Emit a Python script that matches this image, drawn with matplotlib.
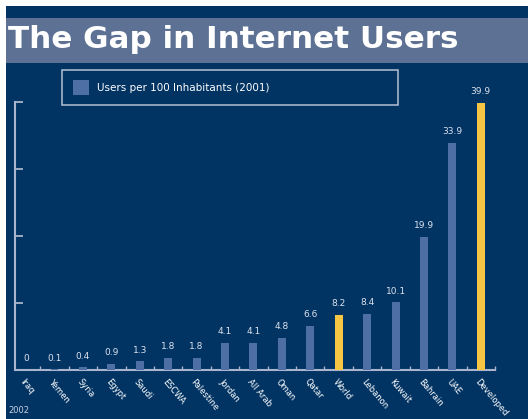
import matplotlib
matplotlib.use("Agg")
from matplotlib import pyplot as plt
from matplotlib.patches import Rectangle

countries = ["Iraq", "Yemen", "Syria", "Egypt", "Saudi", "ESCWA", "Palestine",
             "Jordan", "All Arab", "Oman", "Qatar", "World", "Lebanon",
             "Kuwait", "Bahrain", "UAE", "Developed"]
users = [0, 0.1, 0.4, 0.9, 1.3, 1.8, 1.8, 4.1, 4.1, 4.8, 6.6, 8.2, 8.4,
         10.1, 19.9, 33.9, 39.9]
highlight = ["World", "Developed"]

navy = "#013363"
band = "#5d7194"
blue = "#4d6fa5"
gold = "#f7c544"
light = "#a9b5cc"

fig = plt.figure(figsize=(5.28, 4.19), dpi=100)
fig.patch.set_facecolor("white")

# dark backdrop and title band
fig.patches.append(Rectangle((6 / 528, 0), 1, 1 - 6 / 419, transform=fig.transFigure,
                             facecolor=navy, edgecolor="none", zorder=-2))
fig.patches.append(Rectangle((6 / 528, 1 - 63 / 419), 1, 45 / 419, transform=fig.transFigure,
                             facecolor=band, edgecolor="none", zorder=-1))
fig.text(8 / 528, 1 - 40 / 419, "The Gap in Internet Users", color="white",
         fontsize=22.3, fontweight="bold", va="center", ha="left", zorder=2)

ax = fig.add_axes([15 / 528, 49 / 419, 480 / 528, 268 / 419])
ax.set_facecolor("none")
ax.set_zorder(5)

x = list(range(len(countries)))
colors = [gold if c in highlight else blue for c in countries]
bars = ax.bar(x, users, width=0.28, color=colors, zorder=3)

for xi, v in zip(x, users):
    txt = "0" if v == 0 else f"{v:.1f}"
    ax.text(xi, v + 1.0, txt, color="#dde3ee", fontsize=6.5, ha="center",
            va="bottom", clip_on=False)

ax.set_xlim(-0.39, 16.46)
ax.set_ylim(0, 40)

for s in ["top", "right"]:
    ax.spines[s].set_visible(False)
for s in ["left", "bottom"]:
    ax.spines[s].set_color(light)
    ax.spines[s].set_linewidth(1.5)

ax.set_yticks([10, 20, 30, 40])
ax.set_yticklabels([])
ax.tick_params(axis="y", direction="in", length=6, width=1.3, color=light)

ax.set_xticks([i + 0.5 for i in range(len(countries))])
ax.set_xticklabels([])
ax.tick_params(axis="x", direction="in", length=3, width=1, color=light)

for xi, name in zip(x, countries):
    ax.text(xi - 0.15, -1.5, name, color="white", fontsize=6.0, rotation=-50,
            rotation_mode="anchor", ha="left", va="center", clip_on=False)

# legend box
fig.patches.append(Rectangle((62 / 528, 1 - 105 / 419), 336 / 528, 35 / 419,
                             transform=fig.transFigure, facecolor="none",
                             edgecolor=light, linewidth=1.2, zorder=2))
fig.patches.append(Rectangle((73 / 528, 1 - 95 / 419), 16 / 528, 15 / 419,
                             transform=fig.transFigure, facecolor=blue,
                             edgecolor="none", zorder=2))
fig.text(97 / 528, 1 - 88 / 419, "Users per 100 Inhabitants (2001)", color="white",
         fontsize=7.5, va="center", ha="left")

fig.text(8 / 528, 1 - 410 / 419, "2002", color="#c8d0e0", fontsize=6, va="center")

fig.savefig("out.png", dpi=100, facecolor=fig.get_facecolor())
